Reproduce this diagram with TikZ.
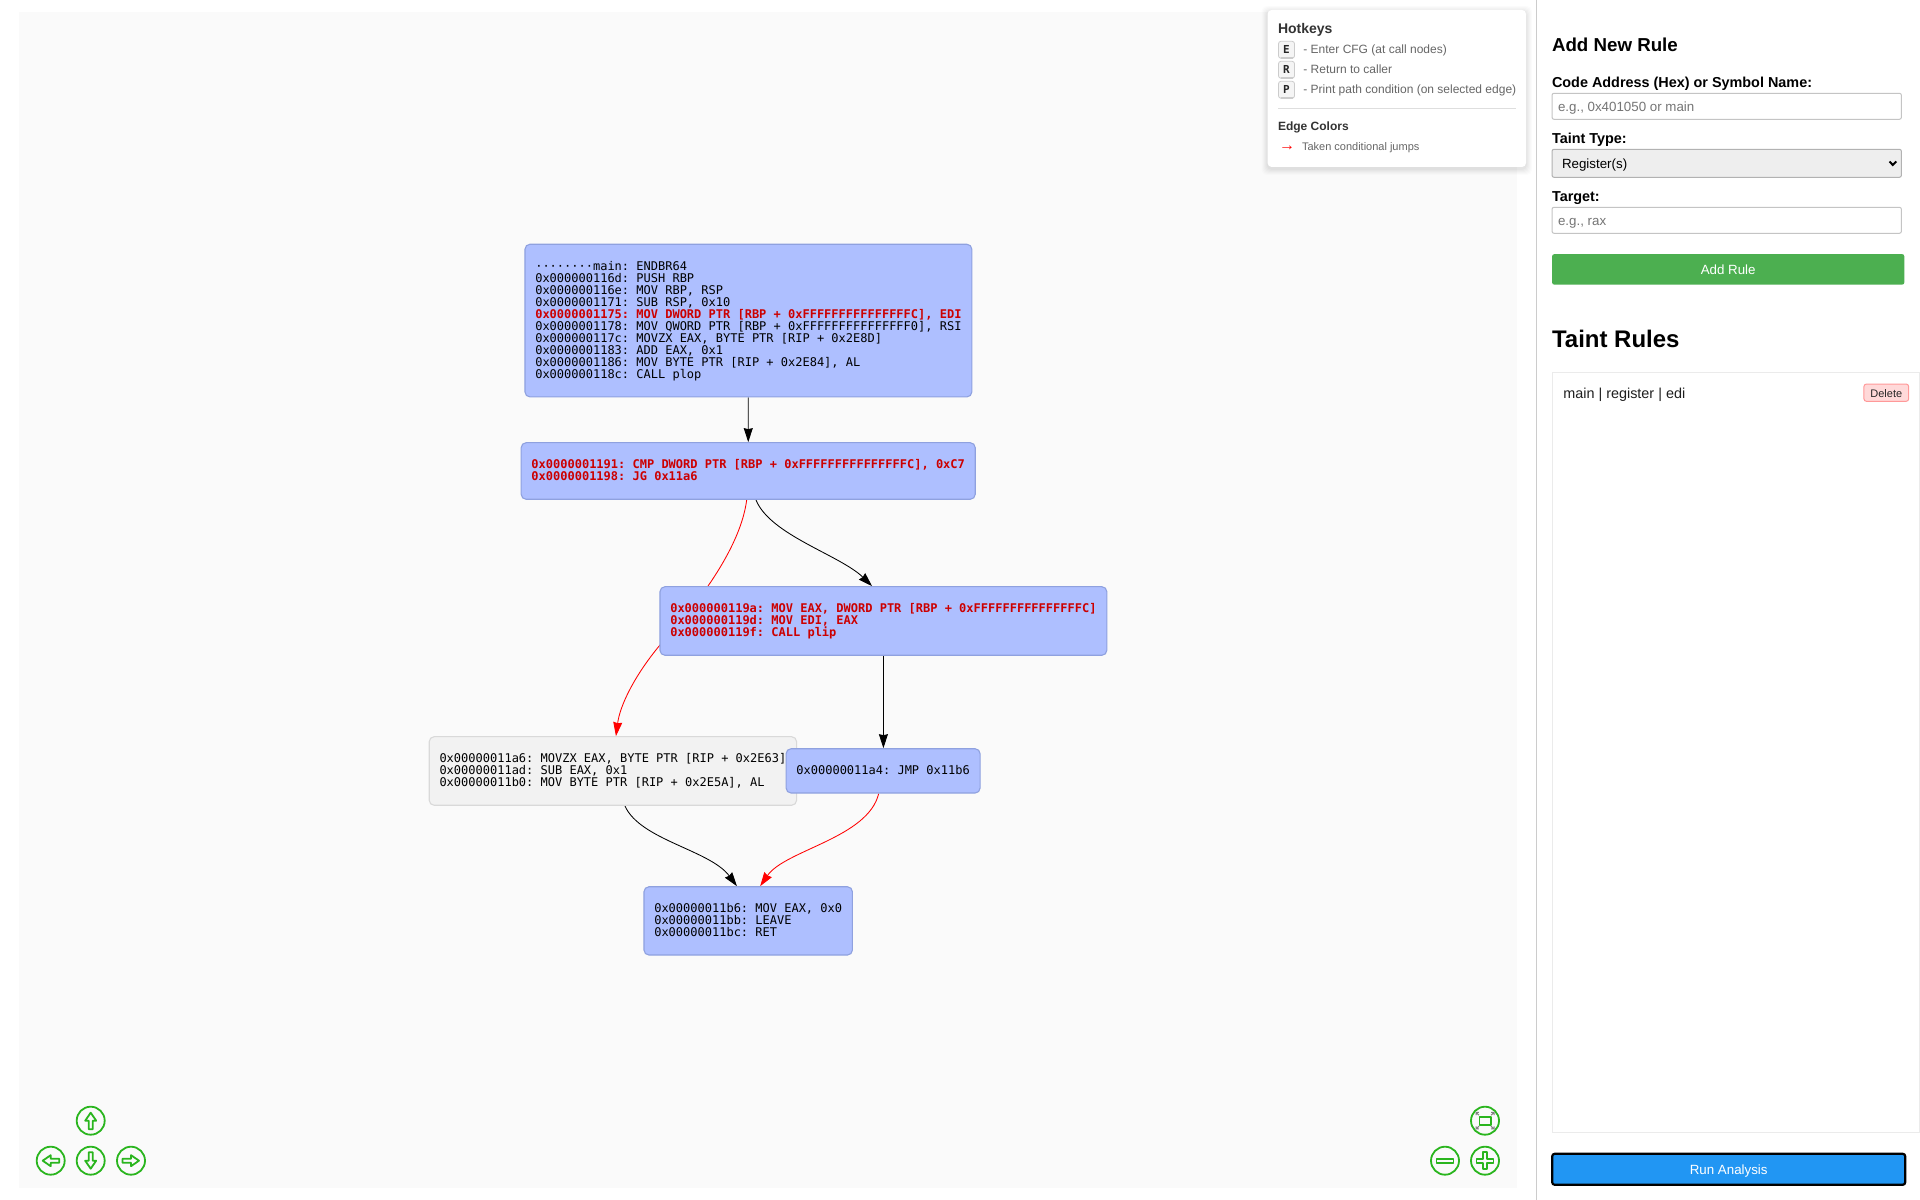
\documentclass[tikz,border=0pt]{standalone}
\usepackage{fontspec}
\setmainfont{Liberation Sans}
\setmonofont{DejaVu Sans Mono}
\usetikzlibrary{arrows.meta}
\definecolor{panelbg}{HTML}{FAFAFA}
\definecolor{blockfill}{HTML}{AEBFFF}
\definecolor{blockline}{HTML}{8FA1DF}
\definecolor{skipfill}{HTML}{F2F2F2}
\definecolor{skipline}{HTML}{D9D9D9}
\definecolor{taintred}{HTML}{CC0000}
\definecolor{navgreen}{HTML}{2AB51E}
\definecolor{fieldline}{HTML}{C4C4C4}
\definecolor{addgreen}{HTML}{4CAF50}
\definecolor{runblue}{HTML}{2196F3}
\newcommand{\pxfont}[1]{\fontsize{#1bp}{#1bp}\selectfont}
\pgfdeclarelayer{panel}
\pgfdeclarelayer{edge}
\pgfsetlayers{panel,edge,main}
\tikzset{
  block/.style={draw=blockline,fill=blockfill,line width=1.1bp,rounded corners=5bp,align=left,
    inner xsep=10.3bp,inner ysep=0bp,text depth=3bp,font=\pxfont{12}\ttfamily},
  skipblock/.style={block,draw=skipline,fill=skipfill},
  flow/.style={->,line width=.85bp,black},
  taken/.style={->,line width=.85bp,red},
  flat/.style={inner sep=0bp,outer sep=0bp},
  lbl/.style={flat,anchor=base west,text=black},
  field/.style={flat,draw=fieldline,fill=white,line width=1bp,rounded corners=2bp,minimum width=349.4bp},
  button/.style={flat,rounded corners=2.5bp,text=white,text height=12bp,text depth=2bp,font=\pxfont{13.33}},
  hint/.style={lbl,text=black!60,font=\pxfont{12}},
  keycap/.style={flat,draw=black!20,fill=black!4,line width=.8bp,rounded corners=2.5bp,text height=8bp,text depth=1bp,
    minimum width=16bp,minimum height=17bp,font=\pxfont{11}\ttfamily\bfseries,text=black!85},
  navring/.style={flat,circle,draw=navgreen,line width=1.8bp,minimum size=28bp},
  navglyph/.style={draw=navgreen,line width=1.8bp,line join=round}
}
\begin{document}
\begin{tikzpicture}[>={Stealth[length=14bp,width=9bp,inset=1bp]}]
\useasboundingbox (0bp,0bp) rectangle (1920bp,1200bp);
%%
\begin{pgfonlayer}{panel}
  \fill [white] (0bp,0bp) rectangle (1920bp,1200bp);
  \node (graph_panel) at (768bp,600bp) [flat,fill=panelbg,minimum width=1498bp,minimum height=1176bp] {};
  \node (side_rule) at (1536.4bp,600bp) [flat,fill=black!20,minimum width=1.5bp,minimum height=1200bp] {};
\end{pgfonlayer}
%% blocks
\node (main_block) at (748.4bp,879.4bp) [block,text height=119bp,minimum height=152.7bp] {%
  ········main: ENDBR64\\
  0x000000116d: PUSH RBP\\
  0x000000116e: MOV RBP, RSP\\
  0x0000001171: SUB RSP, 0x10\\
  \textcolor{taintred}{\bfseries 0x0000001175: MOV DWORD PTR [RBP + 0xFFFFFFFFFFFFFFFC], EDI}\\
  0x0000001178: MOV QWORD PTR [RBP + 0xFFFFFFFFFFFFFFF0], RSI\\
  0x000000117c: MOVZX EAX, BYTE PTR [RIP + 0x2E8D]\\
  0x0000001183: ADD EAX, 0x1\\
  0x0000001186: MOV BYTE PTR [RIP + 0x2E84], AL\\
  0x000000118c: CALL plop};
\node (cmp_block) at (748.2bp,729bp) [block,text height=23bp,minimum height=56.6bp,text=taintred] {\bfseries
  0x0000001191: CMP DWORD PTR [RBP + 0xFFFFFFFFFFFFFFFC], 0xC7\\
  \bfseries 0x0000001198: JG 0x11a6};
\node (plip_block) at (883.4bp,579bp) [block,text height=35bp,minimum height=68.6bp,text=taintred] {\bfseries
  0x000000119a: MOV EAX, DWORD PTR [RBP + 0xFFFFFFFFFFFFFFFC]\\
  \bfseries 0x000000119d: MOV EDI, EAX\\
  \bfseries 0x000000119f: CALL plip};
\node (sub_block) at (612.9bp,429bp) [skipblock,text height=35bp,minimum height=68.6bp] {%
  0x00000011a6: MOVZX EAX, BYTE PTR [RIP + 0x2E63]\\
  0x00000011ad: SUB EAX, 0x1\\
  0x00000011b0: MOV BYTE PTR [RIP + 0x2E5A], AL};
\node (jmp_block) at (883.1bp,429.1bp) [block,text height=10bp,minimum height=44.3bp] {0x00000011a4: JMP 0x11b6};
\node (ret_block) at (748.2bp,279.1bp) [block,text height=35bp,minimum height=68.3bp] {%
  0x00000011b6: MOV EAX, 0x0\\
  0x00000011bb: LEAVE\\
  0x00000011bc: RET};
%% edges
\begin{pgfonlayer}{edge}
  \draw [flow] (main_block) -- (cmp_block);
  \draw [flow] (plip_block.-90) -- (plip_block.-90 |- jmp_block.north);
  \draw [flow] (cmp_block.-75.2) .. controls (770bp,665bp) and (840bp,645bp) .. (plip_block.108.7);
  \draw [taken] (cmp_block.-93) .. controls (741bp,655bp) and (702bp,600bp) .. (660bp,555bp)
     .. controls (635bp,525bp) and (620bp,495bp) .. (sub_block.85.7);
  \draw [flow] (sub_block.-71.3) .. controls (640bp,360bp) and (710bp,350bp) .. (ret_block.108.1);
  \draw [taken] (jmp_block.-101.8) .. controls (868bp,362bp) and (785bp,350bp) .. (ret_block.71);
\end{pgfonlayer}
%% hotkeys card
\foreach \grow/\fade in {6/.012,5/.014,4/.016,3/.018,2/.02,1/.022}
  \fill [black,opacity=\fade,rounded corners=5bp]
    (1267.6bp-\grow bp,1033bp-\grow bp-2bp) rectangle (1526bp+\grow bp,1190bp+\grow bp-2bp);
\node (hotkeys_card) at (1396.8bp,1111.5bp) [flat,fill=white,rounded corners=4bp,minimum width=258.4bp,minimum height=157bp] {};
\node (hotkeys_title) at (1278bp,1166.4bp) [lbl,text=black!80,font=\pxfont{14}\bfseries] {Hotkeys};
\node (key_e) at (1286.5bp,1150.2bp) [keycap] {E};
\node (key_r) at (1286.5bp,1130.2bp) [keycap] {R};
\node (key_p) at (1286.5bp,1110.2bp) [keycap] {P};
\foreach \k in {key_e,key_r,key_p}
  \draw [black!20,line width=1.6bp,shorten >=2bp,shorten <=2bp] (\k.south west) -- (\k.south east);
\node (hint_e) at (1303.4bp,1146.1bp) [hint] {- Enter CFG (at call nodes)};
\node (hint_r) at (1303.4bp,1126.1bp) [hint] {- Return to caller};
\node (hint_p) at (1303.4bp,1106.1bp) [hint] {- Print path condition (on selected edge)};
\node (card_rule) at (1397bp,1091.7bp) [flat,fill=black!13,minimum width=238bp,minimum height=1bp] {};
\node (edge_title) at (1278bp,1069.4bp) [lbl,text=black!80,font=\pxfont{12}\bfseries] {Edge Colors};
\node (edge_arrow) at (1279bp,1049bp) [lbl,text=red,font=\pxfont{16}] {→};
\node (edge_text) at (1302bp,1049.1bp) [hint,font=\pxfont{11}] {Taken conditional jumps};
%% side form
\node (form_title) at (1552bp,1148.4bp) [lbl,font=\pxfont{18.72}\bfseries] {Add New Rule};
\node (addr_label) at (1552bp,1112.4bp) [lbl,font=\pxfont{14.4}\bfseries] {Code Address (Hex) or Symbol Name:};
\node (addr_field) at (1726.7bp,1093.7bp) [field,minimum height=26bp] {};
\node (addr_hint) at (1558bp,1088.4bp) [lbl,text=black!54,font=\pxfont{13.33}] {e.g., 0x401050 or main};
\node (type_label) at (1552bp,1056.4bp) [lbl,font=\pxfont{14.4}\bfseries] {Taint Type:};
\node (type_select) at (1726.7bp,1036.7bp) [field,fill=black!6.5,draw=black!30,minimum height=28bp] {};
\node (type_text) at (1562bp,1031.1bp) [lbl,font=\pxfont{13.33}] {Register(s)};
\draw [black,line width=2bp] (1889.5bp,1038.5bp) -- (1892.8bp,1035bp) -- (1896.3bp,1038.5bp);
\node (target_label) at (1552bp,998.4bp) [lbl,font=\pxfont{14.4}\bfseries] {Target:};
\node (target_field) at (1726.7bp,979.7bp) [field,minimum height=26bp] {};
\node (target_hint) at (1558bp,974.4bp) [lbl,text=black!54,font=\pxfont{13.33}] {e.g., rax};
\node (add_button) at (1728.2bp,930.6bp) [button,fill=addgreen,minimum width=352.4bp,minimum height=30.7bp] {Add Rule};
\node (rules_title) at (1552bp,852.4bp) [lbl,font=\pxfont{24}\bfseries] {Taint Rules};
\node (rules_box) at (1736bp,447bp) [flat,draw=black!8,line width=1bp,minimum width=367.4bp,minimum height=760bp] {};
\node (rule_text) at (1563.3bp,801bp) [lbl,text=black!88,font=\pxfont{14.4}] {main | register | edi};
\node (delete_button) at (1886.3bp,807.3bp) [flat,draw=red!40,fill=red!15,line width=1bp,rounded corners=2.5bp,
  minimum width=44.7bp,minimum height=17.3bp,text height=11bp,text depth=2bp,font=\pxfont{11},text=black!85] {Delete};
\node (run_button) at (1728.7bp,30.7bp) [button,draw=black,line width=2.2bp,fill=runblue,minimum width=353bp,minimum height=31bp] {Run Analysis};
%% navigation
\foreach \nm/\cx/\cy/\ang in {up/90.7/79.3/0,left/50.7/39.3/90,down/90.7/39.3/180,right/131/39.3/270} {
  \node (nav_\nm) at (\cx bp,\cy bp) [navring] {};
  \draw [navglyph,shift={(nav_\nm.center)},rotate=\ang]
    (0bp,8bp) -- (-5.5bp,0bp) -- (-2bp,0bp) -- (-2bp,-8.5bp) -- (2bp,-8.5bp) -- (2bp,0bp) -- (5.5bp,0bp) -- cycle;
}
\node (nav_fit) at (1485bp,79.3bp) [navring] {};
\draw [navglyph,shift={(nav_fit.center)}] (-5.6bp,-4bp) rectangle (5.6bp,4bp);
\foreach \sx/\sy in {1/1,1/-1,-1/1,-1/-1}
  \draw [black!50,line width=1bp,shift={(nav_fit.center)},xscale=\sx,yscale=\sy]
    (6bp,5.5bp) -- (9bp,8.2bp) (6.2bp,8.2bp) -- (9bp,8.2bp) -- (9bp,5.6bp);
\node (nav_minus) at (1445bp,39.3bp) [navring] {};
\draw [navglyph,shift={(nav_minus.center)}] (-8.5bp,-2bp) rectangle (8.5bp,2bp);
\node (nav_plus) at (1485bp,39.3bp) [navring] {};
\draw [navglyph,shift={(nav_plus.center)}]
  (-2bp,8.5bp) -- (2bp,8.5bp) -- (2bp,2bp) -- (8.5bp,2bp) -- (8.5bp,-2bp) -- (2bp,-2bp) -- (2bp,-8.5bp)
  -- (-2bp,-8.5bp) -- (-2bp,-2bp) -- (-8.5bp,-2bp) -- (-8.5bp,2bp) -- (-2bp,2bp) -- cycle;
%
\end{tikzpicture}
\end{document}
